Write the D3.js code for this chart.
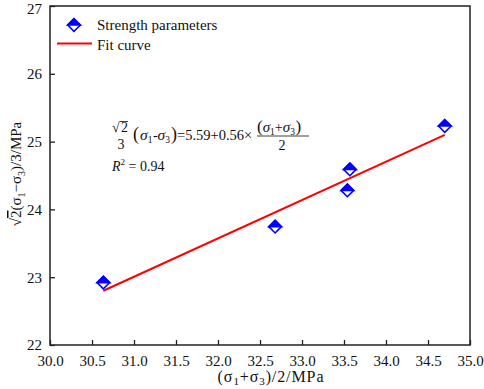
<!DOCTYPE html>
<html>
<head>
<meta charset="utf-8">
<script src="https://cdn.jsdelivr.net/npm/d3@7"></script>
<style>
  body { margin: 0; background: #fff; }
  #chart text { font-family: "Liberation Serif", "Times New Roman", Times, serif !important; fill: #111; }
</style>
</head>
<body>
<svg id="chart" width="484" height="389"></svg>
<script>
// --- data ---
const meanStress = [30.635, 32.68, 33.54, 33.57, 34.70];   // (s1+s3)/2
const shearStress = [22.92, 23.745, 24.28, 24.59, 25.23];  // sqrt2(s1-s3)/3
const fitX = [30.635, 34.70];
const fitY = [22.80, 25.10];
const xTicks = [30.0, 30.5, 31.0, 31.5, 32.0, 32.5, 33.0, 33.5, 34.0, 34.5, 35.0];
const yTicks = [22, 23, 24, 25, 26, 27];

const margin = { top: 6, right: 14, bottom: 44, left: 50 };
const width = 484 - margin.left - margin.right;
const height = 389 - margin.top - margin.bottom;

const svg = d3.select("#chart");
const g = svg.append("g").attr("transform", `translate(${margin.left},${margin.top})`);

const x = d3.scaleLinear().domain([30, 35]).range([0, width]);
const y = d3.scaleLinear().domain([22, 27]).range([height, 0]);

// axes, ticks pointing inward
const xAxis = g.append("g")
    .attr("transform", `translate(0,${height})`)
    .call(d3.axisBottom(x).tickValues(xTicks).tickFormat(d3.format(".1f")).tickSize(-5).tickPadding(10));
const yAxis = g.append("g")
    .call(d3.axisLeft(y).tickValues(yTicks).tickFormat(d3.format("d")).tickSize(-5).tickPadding(8));

[xAxis, yAxis].forEach(a => {
    a.attr("font-family", null);
    a.select(".domain").remove();
    a.selectAll(".tick line").attr("stroke", "#222").attr("stroke-width", 1.3);
    a.selectAll("text").style("font-size", "15px").attr("fill", "#111");
});
yAxis.selectAll(".tick text").filter(d => d === 27).attr("dy", "0.5em");

// frame
g.append("rect")
    .attr("width", width).attr("height", height)
    .attr("fill", "none").attr("stroke", "#222").attr("stroke-width", 1.5);

// fit line
g.append("line")
    .attr("x1", x(fitX[0])).attr("y1", y(fitY[0]))
    .attr("x2", x(fitX[1])).attr("y2", y(fitY[1]))
    .attr("stroke", "#ff0000").attr("stroke-width", 2);

// half-filled diamond markers
const r = 6.3;
function drawDiamond(sel) {
    sel.append("path")
        .attr("d", `M0,${-r}L${r},0L0,${r}L${-r},0Z`)
        .attr("fill", "#fff").attr("stroke", "#0000ff").attr("stroke-width", 1.6);
    sel.append("path")
        .attr("d", `M0,${-r}L${r},0L${-r},0Z`)
        .attr("fill", "#0000ff").attr("stroke", "#0000ff").attr("stroke-width", 1.6);
}
g.selectAll(".pt")
    .data(meanStress.map((d, i) => [d, shearStress[i]]))
    .join("g")
    .attr("class", "pt")
    .attr("transform", d => `translate(${x(d[0])},${y(d[1])})`)
    .each(function () { drawDiamond(d3.select(this)); });

// legend
const leg = svg.append("g");
drawDiamond(leg.append("g").attr("transform", "translate(74,25)"));
leg.append("text").attr("x", 97).attr("y", 30).style("font-size", "15px").text("Strength parameters");
leg.append("line").attr("x1", 57).attr("x2", 92).attr("y1", 43.5).attr("y2", 43.5)
    .attr("stroke", "#ff0000").attr("stroke-width", 2);
leg.append("text").attr("x", 97).attr("y", 50).style("font-size", "15px").text("Fit curve");

// axis titles
const xt = svg.append("text")
    .attr("x", 271).attr("y", 382).attr("text-anchor", "middle")
    .style("font-size", "16px").style("letter-spacing", "0.9px");
xt.append("tspan").text("(σ");
xt.append("tspan").attr("dy", 3).style("font-size", "11px").text("1");
xt.append("tspan").attr("dy", -3).text("+σ");
xt.append("tspan").attr("dy", 3).style("font-size", "11px").text("3");
xt.append("tspan").attr("dy", -3).text(")/2/MPa");

const yt = svg.append("text")
    .attr("transform", "translate(21,174) rotate(-90)")
    .attr("text-anchor", "middle").style("font-size", "15px");
yt.append("tspan").text("√");
yt.append("tspan").style("text-decoration", "overline").text("2");
yt.append("tspan").text("(σ");
yt.append("tspan").attr("dy", 4).style("font-size", "10px").text("1");
yt.append("tspan").attr("dy", -4).text("−σ");
yt.append("tspan").attr("dy", 4).style("font-size", "10px").text("3");
yt.append("tspan").attr("dy", -4).text(")/3/MPa");

// equation
const eq = svg.append("g").style("font-size", "14px");
eq.append("text").attr("x", 112).attr("y", 132).text("√");
eq.append("line").attr("x1", 120).attr("x2", 128).attr("y1", 121.5).attr("y2", 121.5)
    .attr("stroke", "#111").attr("stroke-width", 0.8);
eq.append("text").attr("x", 121).attr("y", 132).text("2");
eq.append("text").attr("x", 121).attr("y", 149).attr("text-anchor", "middle").text("3");

const main = eq.append("text").attr("x", 133).attr("y", 140);
main.append("tspan").style("font-size", "18px").text("(");
main.append("tspan").attr("dx", 1).style("font-style", "italic").style("font-size", "15.5px").text("σ");
main.append("tspan").attr("dy", 3).style("font-size", "9.5px").text("1");
main.append("tspan").attr("dy", -3).attr("dx", 0.5).text("-");
main.append("tspan").style("font-style", "italic").style("font-size", "15.5px").text("σ");
main.append("tspan").attr("dy", 3).style("font-size", "9.5px").text("3");
main.append("tspan").attr("dy", -3).attr("dx", 1).style("font-size", "18px").text(")");
main.append("tspan").style("font-size", "14.5px").text("=5.59+0.56×");

const num = eq.append("text").attr("x", 257).attr("y", 132);
num.append("tspan").style("font-size", "17px").text("(");
num.append("tspan").style("font-style", "italic").style("font-size", "15px").text("σ");
num.append("tspan").attr("dy", 3).style("font-size", "9.5px").text("1");
num.append("tspan").attr("dy", -3).text("+");
num.append("tspan").style("font-style", "italic").style("font-size", "15px").text("σ");
num.append("tspan").attr("dy", 3).style("font-size", "9.5px").text("3");
num.append("tspan").attr("dy", -3).attr("dx", 0.5).style("font-size", "17px").text(")");
eq.append("line").attr("x1", 257).attr("x2", 309).attr("y1", 136).attr("y2", 136)
    .attr("stroke", "#111").attr("stroke-width", 0.8);
eq.append("text").attr("x", 282).attr("y", 150).attr("text-anchor", "middle").text("2");

const r2 = eq.append("text").attr("x", 112).attr("y", 171);
r2.append("tspan").style("font-style", "italic").text("R");
r2.append("tspan").attr("dy", -6).style("font-size", "9px").text("2");
r2.append("tspan").attr("dy", 6).text(" = 0.94");
</script>
</body>
</html>
